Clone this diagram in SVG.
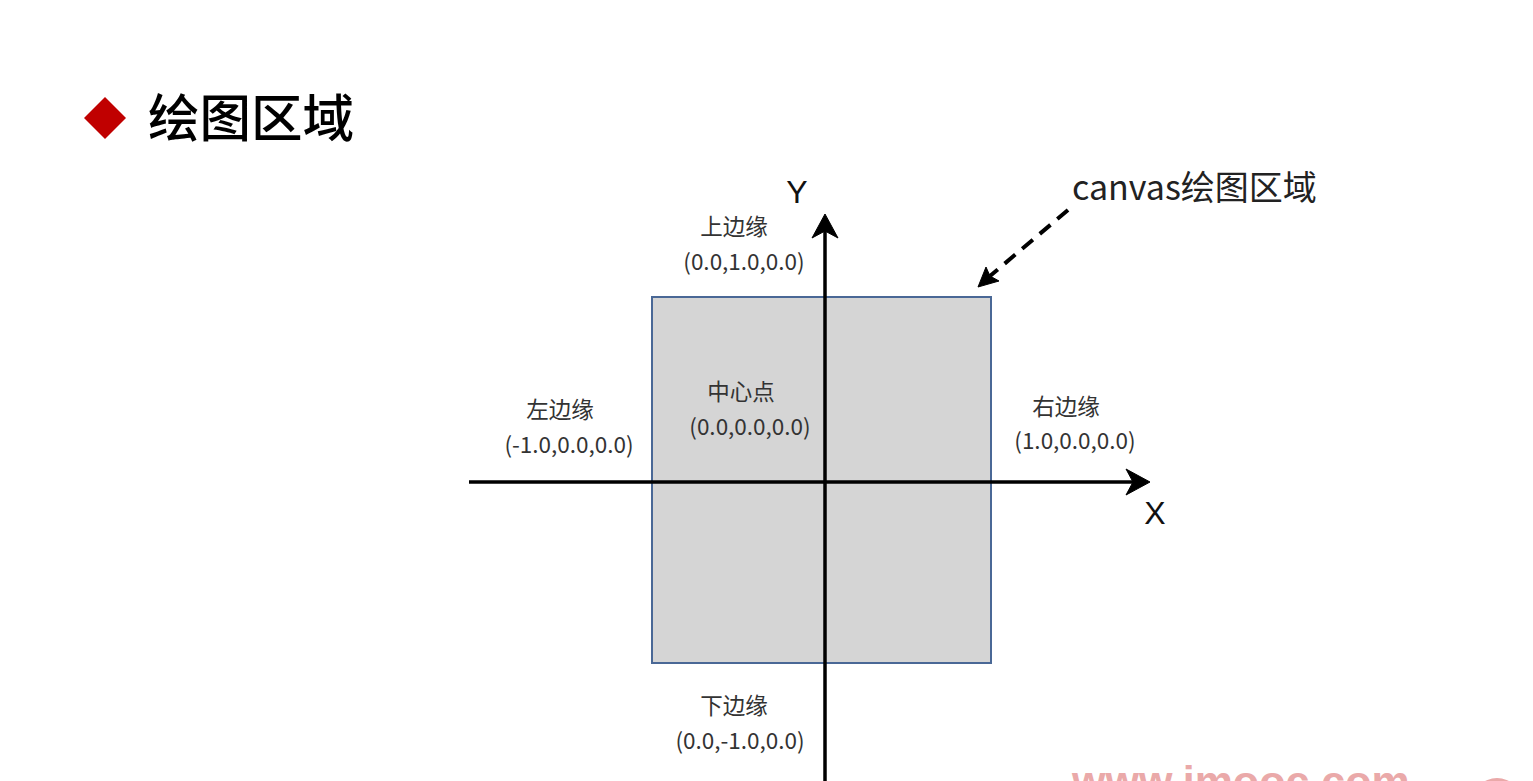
<svg xmlns="http://www.w3.org/2000/svg" width="1533" height="781" viewBox="0 0 1533 781">
<style>
.lbl{font-family:"Noto Sans CJK SC","Liberation Sans",sans-serif;font-size:22.5px;fill:#333;text-anchor:middle}
.ax{stroke:#000;stroke-width:3.5;fill:none}
.head{fill:#000;stroke:#000;stroke-width:1;stroke-linejoin:miter}
.axl{font-family:"Liberation Sans",sans-serif;font-size:32px;fill:#111;text-anchor:middle}
</style>
<rect width="1533" height="781" fill="#fff"/>
<g id="title">
<polygon points="105,97 126,118 105,139 84,118" fill="#c00000"/>
<text x="148" y="137" font-family="Noto Sans CJK SC,sans-serif" font-size="51.5" font-weight="500" fill="#000">绘图区域</text>
</g>
<g id="canvas-area">
<rect x="652" y="297" width="339" height="366" fill="#d5d5d5" stroke="#4a6896" stroke-width="2"/>
</g>
<g id="connectors">
<line class="ax" x1="469" y1="482" x2="1140" y2="482"/>
<polygon class="head" points="1126,469 1150,482 1126,495 1133,482"/>
<line class="ax" x1="825" y1="781" x2="825" y2="224"/>
<polygon class="head" points="812,238 825,214 838,238 825,231"/>
<line x1="1068" y1="210" x2="990" y2="276" stroke="#000" stroke-width="4" stroke-dasharray="14,9"/>
<polygon class="head" points="978,287 986,267 990,276 999,281"/>
</g>
<g id="axis-y"><text class="axl" x="797" y="203">Y</text></g>
<g id="axis-x"><text class="axl" x="1155" y="524">X</text></g>
<g id="label-canvas"><text x="1072" y="200" font-family="Noto Sans CJK SC,Liberation Sans,sans-serif" font-size="34" fill="#222">canvas绘图区域</text></g>
<g id="top-edge">
<text class="lbl" x="734" y="235">上边缘</text>
<text class="lbl" x="744" y="270">(0.0,1.0,0.0)</text>
</g>
<g id="center">
<text class="lbl" x="741" y="400">中心点</text>
<text class="lbl" x="750" y="435">(0.0,0.0,0.0)</text>
</g>
<g id="left-edge">
<text class="lbl" x="560" y="418">左边缘</text>
<text class="lbl" x="569" y="453">(-1.0,0.0,0.0)</text>
</g>
<g id="right-edge">
<text class="lbl" x="1066" y="415">右边缘</text>
<text class="lbl" x="1075" y="449">(1.0,0.0,0.0)</text>
</g>
<g id="bottom-edge">
<text class="lbl" x="734" y="714">下边缘</text>
<text class="lbl" x="740" y="749">(0.0,-1.0,0.0)</text>
</g>
<g id="watermark" opacity="0.9">
<text x="1072" y="796" font-family="Liberation Sans,sans-serif" font-size="43" font-weight="bold" fill="#e8a0a0">www.imooc.com</text>
<circle cx="1497" cy="803" r="25" fill="#e8a0a0"/>
</g>
</svg>
